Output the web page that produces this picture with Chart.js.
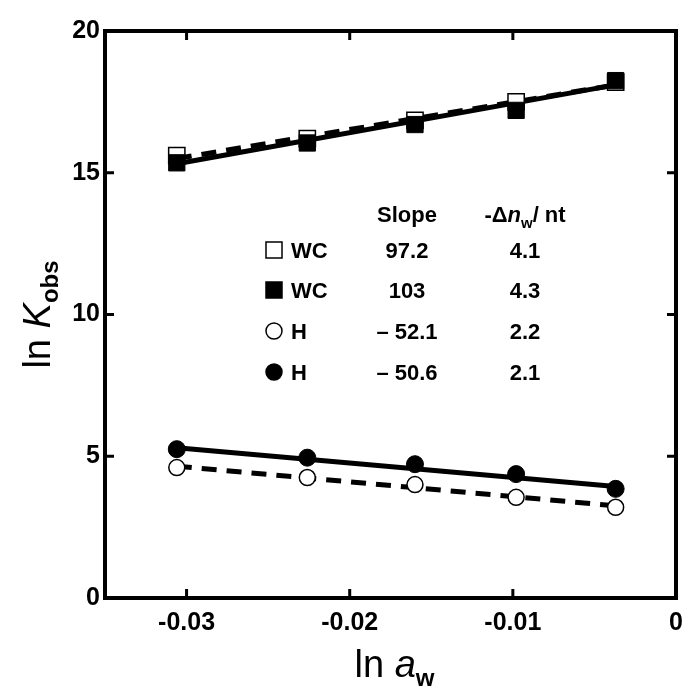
<!DOCTYPE html>
<html><head><meta charset="utf-8">
<script src="https://cdn.jsdelivr.net/npm/chart.js@4/dist/chart.umd.min.js"></script>
<style>html,body{margin:0;padding:0;background:#fff}canvas{display:block}</style>
</head><body>
<canvas id="c" width="689" height="691"></canvas>
<script>
// ---- data ----
const lnAw = [-0.0306, -0.0226, -0.0160, -0.0098, -0.0037];
const wcOpen = [15.6, 16.2, 16.85, 17.5, 18.2];
const wcFilled = [15.35, 16.05, 16.7, 17.2, 18.25];
const hOpen = [4.6, 4.25, 4.0, 3.55, 3.2];
const hFilled = [5.25, 4.95, 4.72, 4.37, 3.85];
const fitX = [-0.0306, -0.0037];
const wcOpenFit = [15.5, 18.1];
const wcFilledFit = [15.32, 18.1];
const hOpenFit = [4.65, 3.25];
const hFilledFit = [5.3, 3.93];
const xTicks = [-0.03, -0.02, -0.01, 0];
const yTicks = [0, 5, 10, 15, 20];
const tableLabels = ['WC', 'WC', 'H', 'H'];
const slopes = ['97.2', '103', '– 52.1', '– 50.6'];
const dnw = ['4.1', '4.3', '2.2', '2.1'];
const markerKinds = ['openRect', 'filledRect', 'openCircle', 'filledCircle'];

const F = '"Liberation Sans", Arial, Helvetica, sans-serif';
const pts = (xs, ys) => xs.map((v, i) => ({x: v, y: ys[i]}));

function drawRich(ctx, segs, x, y, align) {
  let w = 0;
  segs.forEach(s => { ctx.font = s.font; s.w = ctx.measureText(s.t).width; w += s.w; });
  let cx = align === 'center' ? x - w / 2 : (align === 'right' ? x - w : x);
  ctx.textAlign = 'left';
  segs.forEach(s => { ctx.font = s.font; ctx.fillText(s.t, cx, y + (s.dy || 0)); cx += s.w; });
}

function drawMarker(ctx, kind, x, y) {
  ctx.save();
  ctx.strokeStyle = '#000';
  if (kind === 'openRect' || kind === 'filledRect') {
    ctx.fillStyle = kind === 'openRect' ? '#fff' : '#000';
    ctx.lineWidth = 1.5;
    ctx.fillRect(x - 8, y - 8, 16, 16);
    ctx.strokeRect(x - 8, y - 8, 16, 16);
  } else {
    ctx.fillStyle = kind === 'openCircle' ? '#fff' : '#000';
    ctx.lineWidth = 1.5;
    ctx.beginPath(); ctx.arc(x, y, 8, 0, Math.PI * 2); ctx.fill(); ctx.stroke();
  }
  ctx.restore();
}

const deco = {
  id: 'deco',
  afterDraw(chart) {
    const {ctx, chartArea: a, scales: {x, y}} = chart;
    ctx.save();
    ctx.strokeStyle = '#000';
    ctx.lineWidth = 4;
    ctx.strokeRect(a.left, a.top, a.right - a.left, a.bottom - a.top);
    ctx.lineWidth = 3;
    const tl = 9;
    ctx.beginPath();
    xTicks.forEach(v => {
      const px = x.getPixelForValue(v);
      ctx.moveTo(px, a.bottom); ctx.lineTo(px, a.bottom - tl);
      ctx.moveTo(px, a.top); ctx.lineTo(px, a.top + tl);
    });
    yTicks.forEach(v => {
      const py = y.getPixelForValue(v);
      ctx.moveTo(a.left, py); ctx.lineTo(a.left + tl, py);
      ctx.moveTo(a.right, py); ctx.lineTo(a.right - tl, py);
    });
    ctx.stroke();

    ctx.fillStyle = '#000';
    ctx.textBaseline = 'alphabetic';
    // x title
    drawRich(ctx, [
      {t: 'ln ', font: `38px ${F}`},
      {t: 'a', font: `italic 38px ${F}`},
      {t: 'w', font: `bold 24px ${F}`, dy: 9}
    ], (a.left + a.right) / 2 + 4, 677, 'center');
    // y title
    ctx.save();
    ctx.translate(50, (a.top + a.bottom) / 2);
    ctx.rotate(-Math.PI / 2);
    drawRich(ctx, [
      {t: 'ln ', font: `38px ${F}`},
      {t: 'K', font: `italic 38px ${F}`},
      {t: 'obs', font: `bold 24px ${F}`, dy: 8}
    ], 0, 0, 'center');
    ctx.restore();

    // table
    const B = `bold 22px ${F}`;
    ctx.font = B; ctx.textAlign = 'center';
    ctx.fillText('Slope', 407, 222);
    drawRich(ctx, [
      {t: '-Δ', font: B},
      {t: 'n', font: `italic bold 22px ${F}`},
      {t: 'w', font: `bold 15px ${F}`, dy: 6},
      {t: '/ nt', font: B}
    ], 525, 222, 'center');
    const rowY = [250, 290, 331, 372];
    rowY.forEach((ry, i) => {
      drawMarker(ctx, markerKinds[i], 274, ry);
      ctx.font = B; ctx.textAlign = 'left';
      ctx.fillText(tableLabels[i], 291, ry + 8);
      ctx.textAlign = 'center';
      ctx.fillText(slopes[i], 407, ry + 8);
      ctx.fillText(dnw[i], 525, ry + 8);
    });
    ctx.restore();
  }
};

const rectR = 11.5;
new Chart(document.getElementById('c'), {
  type: 'scatter',
  data: {
    datasets: [
      {data: pts(lnAw, wcFilled), pointStyle: 'rect', pointRadius: rectR, backgroundColor: '#000', borderColor: '#000', borderWidth: 1},
      {data: pts(lnAw, hFilled), pointStyle: 'circle', pointRadius: 8.5, backgroundColor: '#000', borderColor: '#000', borderWidth: 1},
      {data: pts(lnAw, wcOpen), pointStyle: 'rect', pointRadius: rectR, backgroundColor: '#fff', borderColor: '#000', borderWidth: 1.5},
      {data: pts(lnAw, hOpen), pointStyle: 'circle', pointRadius: 8, backgroundColor: '#fff', borderColor: '#000', borderWidth: 1.5},
      {data: pts(fitX, wcFilledFit), showLine: true, borderColor: '#000', borderWidth: 5, pointRadius: 0},
      {data: pts(fitX, hFilledFit), showLine: true, borderColor: '#000', borderWidth: 5, pointRadius: 0},
      {data: pts(fitX, wcOpenFit), showLine: true, borderColor: '#000', borderWidth: 5, pointRadius: 0, borderDash: [15, 10]},
      {data: pts(fitX, hOpenFit), showLine: true, borderColor: '#000', borderWidth: 5, pointRadius: 0, borderDash: [15, 10]}
    ]
  },
  options: {
    responsive: false,
    animation: false,
    events: [],
    layout: {padding: {top: 31, right: 10, left: 0, bottom: 0}},
    plugins: {legend: {display: false}, tooltip: {enabled: false}},
    scales: {
      x: {
        type: 'linear', min: -0.035, max: 0,
        grid: {display: false, drawTicks: false, tickLength: 0}, border: {display: false},
        afterBuildTicks: s => { s.ticks = xTicks.map(v => ({value: v})); },
        afterFit: s => { s.height = 93; s.paddingRight = 0; s.paddingLeft = 0; },
        ticks: {color: '#000', padding: 10, maxRotation: 0, autoSkip: false,
          font: {family: F, size: 25, weight: 'bold'},
          callback: v => v === 0 ? '0' : Number(v).toFixed(2)}
      },
      y: {
        type: 'linear', min: 0, max: 20,
        grid: {display: false, drawTicks: false, tickLength: 0}, border: {display: false},
        afterBuildTicks: s => { s.ticks = yTicks.map(v => ({value: v})); },
        afterFit: s => { s.width = 105; s.paddingTop = 0; s.paddingBottom = 0; },
        ticks: {color: '#000', padding: 5, autoSkip: false,
          font: {family: F, size: 25, weight: 'bold'},
          callback: v => String(v)}
      }
    }
  },
  plugins: [deco]
});
</script>
</body></html>
